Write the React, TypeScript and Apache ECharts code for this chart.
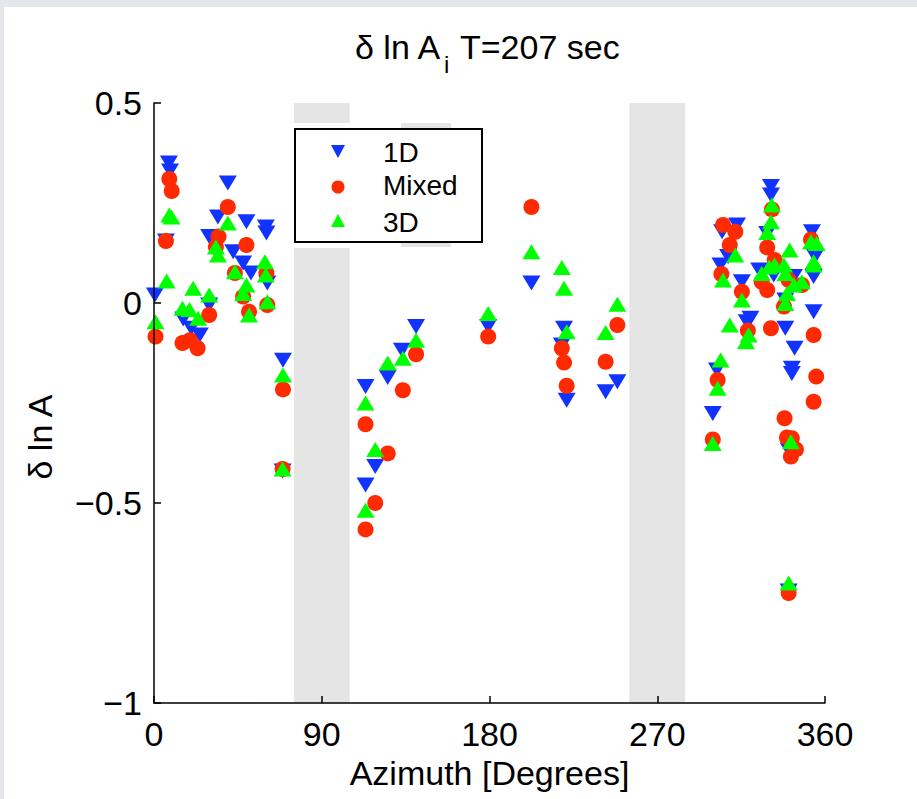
import React, { useEffect, useRef } from 'react';
import * as echarts from 'echarts';

// ---- data (azimuth in degrees, δ ln A) ----
const azimuthTicks = [0, 90, 180, 270, 360];
const valueTicks = [-1, -0.5, 0, 0.5];
const shadedSectors: [number, number][] = [[75, 105], [255, 285]];
const seriesNames = ['1D', 'Mixed', '3D'];

const oneD: [number, number][] = [
  [0.5, 0.02], [6.4, 0.155], [8, 0.35], [8.6, 0.33], [15.7, -0.04], [20, -0.063], [24.6, -0.08],
  [29.6, 0.166], [29.6, -0.005], [34.3, 0.215], [39.6, 0.3], [42.5, 0.128], [47.8, 0.1], [49.6, 0.203],
  [52, 0.075], [60, 0.19], [60.3, 0.175], [60.8, 0.05], [69.2, -0.143], [69, -0.42],
  [113.5, -0.209], [113.5, -0.455], [118.7, -0.409], [125.4, -0.186], [133, -0.118], [140.6, -0.059],
  [179.3, -0.059],
  [202.5, 0.05], [220, -0.063], [218.8, -0.105], [221.4, -0.243], [242.3, -0.222], [248.6, -0.197],
  [299.8, -0.276], [302, -0.1675], [303.9, 0.095], [304.8, 0.178], [308, 0.116], [312.8, 0.195],
  [315.4, 0.053], [318, -0.047], [320, -0.038], [324.7, 0.0825], [329, 0.174], [331, 0.291], [331, 0.27],
  [332.5, 0.07], [338.7, 0.0075], [338.7, -0.063], [340.5, -0.3675], [340.5, -0.72], [342.2, -0.163],
  [342.2, -0.176], [343.3, 0.066], [343.7, -0.113], [353, 0.178], [354.7, 0.116], [353.9, 0.066],
  [353.9, -0.022],
];

const mixed: [number, number][] = [
  [0.8, -0.084], [6.4, 0.155], [8.2, 0.31], [9.5, 0.28], [15.3, -0.1], [19.3, -0.093], [23.4, -0.113],
  [29.6, -0.03], [34.6, 0.166], [33.2, 0.14], [39.6, 0.24], [43.4, 0.075], [47.8, 0.016], [49.6, 0.145],
  [51, -0.022], [60.3, 0.075], [60.8, -0.005], [69.2, -0.216], [69, -0.415],
  [113.5, -0.303], [118.7, -0.5], [113.5, -0.566], [125.4, -0.376], [133.5, -0.218], [140.6, -0.128],
  [179.3, -0.084],
  [202.5, 0.24], [218.8, -0.113], [220, -0.149], [221.4, -0.207], [242.3, -0.147], [248.6, -0.055],
  [299.8, -0.341], [302.4, -0.1925], [304.4, 0.0725], [305.3, 0.195], [308.9, 0.145], [311.9, 0.178],
  [315.4, 0.028], [318.6, -0.069], [326, 0.053], [329, 0.139], [329, 0.0325], [331.5, 0.234],
  [331, -0.063], [333, 0.1075], [338, -0.009], [338.3, -0.288], [339.6, -0.336], [340.5, 0.0575],
  [340.5, -0.725], [341.7, -0.384], [342.2, -0.338], [344.4, -0.366], [347.6, 0.045], [352.5, 0.159],
  [353.9, -0.08], [353.9, -0.247], [355.3, -0.184],
];

const threeD: [number, number][] = [
  [0.8, -0.047], [6.8, 0.055], [8.2, 0.22], [9.4, 0.215], [15.3, -0.013], [19, -0.016], [21, 0.037],
  [23.7, -0.038], [29.6, 0.02], [33.2, 0.14], [34.3, 0.12], [39.6, 0.2], [43.4, 0.078], [47.8, 0.024],
  [49.6, 0.045], [51, -0.03], [59.5, 0.103], [60, 0.07], [60.8, 0.003], [69.2, -0.18], [69, -0.415],
  [113.5, -0.25], [118.7, -0.366], [113.5, -0.518], [125.4, -0.15], [133.5, -0.138], [140.6, -0.093],
  [179.3, -0.026],
  [202.5, 0.128], [218.8, 0.089], [220, 0.037], [221.4, -0.072], [242.3, -0.074], [248.6, -0.003],
  [299.8, -0.351], [304, -0.1425], [302.4, -0.213], [305.3, 0.0575], [308.9, -0.055], [311.9, 0.12],
  [315.4, 0.0075], [319, -0.08], [317.6, -0.097], [326, 0.074], [329, 0.176], [330, 0.09], [331, 0.203],
  [331.5, 0.245], [333, 0.095], [338, 0.095], [338.7, 0.074], [338.7, -0.001], [339.6, 0.024],
  [341, 0.1325], [341.7, -0.347], [340.5, -0.7], [343.3, 0.045], [347.6, 0.053], [352.5, 0.153],
  [355.5, 0.149], [353.9, 0.103], [353.9, 0.095],
];

const FONT = '"Liberation Sans", Arial, Helvetica, sans-serif';
const BLUE = '#1133ff';
const RED = '#ff2a00';
const GREEN = '#00ff00';
const BAND = '#e5e5e5';

function txt(text: string, x: number, y: number, size: number, align = 'left', rotation = 0) {
  return {
    type: 'text',
    x,
    y,
    z: 20,
    rotation,
    silent: true,
    style: {
      text,
      font: `${size}px ${FONT}`,
      fill: '#000',
      textAlign: align,
      textVerticalAlign: 'middle',
      align,
      verticalAlign: 'middle',
    },
  };
}

export default function App() {
  const ref = useRef<HTMLDivElement>(null);

  useEffect(() => {
    const chart = echarts.init(ref.current!, null, { renderer: 'svg' });
    const minus = (v: number) => (v < 0 ? '\u2212' + String(Math.abs(v)) : String(v));

    const option: any = {
      animation: false,
      backgroundColor: '#ffffff',
      textStyle: { fontFamily: FONT },
      grid: { left: 154, right: 92, top: 103, bottom: 96, containLabel: false },
      xAxis: {
        type: 'value',
        min: azimuthTicks[0],
        max: azimuthTicks[azimuthTicks.length - 1],
        interval: 90,
        z: 10,
        axisLine: { show: true, onZero: false, lineStyle: { color: '#000', width: 1.5 } },
        axisTick: { show: true, inside: true, length: 7, lineStyle: { color: '#000', width: 1.5 } },
        axisLabel: { color: '#000', fontSize: 34, fontFamily: FONT, margin: 14 },
        splitLine: { show: false },
        name: 'Azimuth [Degrees]',
        nameLocation: 'middle',
        nameGap: 52,
        nameTextStyle: { color: '#000', fontSize: 34, fontFamily: FONT },
      },
      yAxis: {
        type: 'value',
        min: valueTicks[0],
        max: valueTicks[valueTicks.length - 1],
        interval: 0.5,
        z: 10,
        axisLine: { show: true, onZero: false, lineStyle: { color: '#000', width: 1.5 } },
        axisTick: { show: true, inside: true, length: 7, lineStyle: { color: '#000', width: 1.5 } },
        axisLabel: { color: '#000', fontSize: 34, fontFamily: FONT, margin: 12, formatter: minus },
        splitLine: { show: false },
      },
      series: [
        {
          type: 'scatter',
          name: 'bands',
          data: [],
          z: 1,
          silent: true,
          markArea: {
            silent: true,
            itemStyle: { color: BAND },
            data: shadedSectors.map(([a, b]) => [{ xAxis: a }, { xAxis: b }]),
          },
        },
        {
          type: 'scatter',
          name: seriesNames[0],
          data: oneD,
          symbol: 'triangle',
          symbolRotate: 180,
          symbolSize: [18, 15],
          itemStyle: { color: BLUE, opacity: 1 },
          z: 3,
        },
        {
          type: 'scatter',
          name: seriesNames[1],
          data: mixed,
          symbol: 'circle',
          symbolSize: 16,
          itemStyle: { color: RED, opacity: 1 },
          z: 4,
        },
        {
          type: 'scatter',
          name: seriesNames[2],
          data: threeD,
          symbol: 'triangle',
          symbolSize: [18, 15],
          itemStyle: { color: GREEN, opacity: 1 },
          z: 5,
        },
      ],
      graphic: {
        elements: [
          { type: 'rect', z: 50, silent: true, shape: { x: 0, y: 0, width: 917, height: 7 }, style: { fill: '#e4e7eb' } },
          { type: 'rect', z: 50, silent: true, shape: { x: 0, y: 0, width: 4, height: 799 }, style: { fill: '#e4e7eb' } },
          // title
          txt('δ ln A', 355, 47, 34),
          txt('i', 444, 64, 24),
          txt('T=207 sec', 460, 47, 34),
          // y-axis label
          txt('δ ln A', 40, 437, 34, 'center', Math.PI / 2),
          // legend region (with MATLAB rendering artefact)
          { type: 'rect', z: 15, silent: true, shape: { x: 292, y: 123, width: 59, height: 125 }, style: { fill: '#ffffff' } },
          { type: 'rect', z: 15, silent: true, shape: { x: 401, y: 123, width: 50, height: 124 }, style: { fill: BAND } },
          { type: 'rect', z: 16, silent: true, shape: { x: 295, y: 129, width: 187, height: 113 }, style: { fill: '#ffffff', stroke: '#000', lineWidth: 2 } },
          { type: 'polygon', z: 17, silent: true, shape: { points: [[331, 145], [345, 145], [338, 158]] }, style: { fill: BLUE } },
          { type: 'circle', z: 17, silent: true, shape: { cx: 338, cy: 187, r: 6.5 }, style: { fill: RED } },
          { type: 'polygon', z: 17, silent: true, shape: { points: [[331, 227], [345, 227], [338, 214]] }, style: { fill: GREEN } },
          txt(seriesNames[0], 383, 152, 28),
          txt(seriesNames[1], 383, 185, 28),
          txt(seriesNames[2], 383, 222, 28),
        ],
      },
    };

    chart.setOption(option);
    return () => chart.dispose();
  }, []);

  return (
    <div style={{ position: 'fixed', left: 0, top: 0, width: 917, height: 799, background: '#fff' }}>
      <div ref={ref} style={{ width: 917, height: 799 }} />
    </div>
  );
}
